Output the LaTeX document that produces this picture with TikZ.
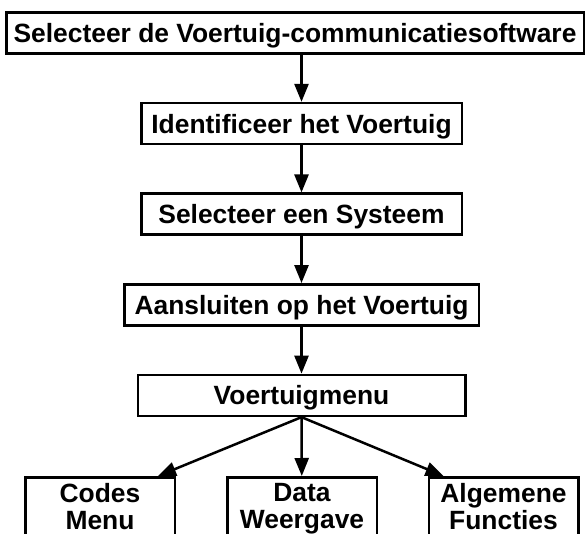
\documentclass[tikz,border=0pt]{standalone}
\usepackage{fontspec}
\setmainfont{Liberation Sans}
\usepackage{tikz}
\usetikzlibrary{shapes.geometric, arrows.meta}
\tikzstyle{process} = [rectangle, draw=black, line width=2.5pt, minimum height=41pt, text height=19pt, text depth=0pt, inner sep=0pt, text centered, font=\bfseries\fontsize{26.4}{27}\selectfont]
\tikzstyle{choice} = [rectangle, draw=black, line width=2.5pt, anchor=north, minimum width=149.5pt, inner xsep=0pt, inner ysep=6.5pt, align=center, font=\bfseries\fontsize{26.4}{26.5}\selectfont]
\tikzstyle{arrow} = [line width=2.5pt, -{Triangle[length=18pt, width=14pt]}]

\begin{document}
\begin{tikzpicture}[x=1pt, y=-1pt, node distance=90.6pt]

    \useasboundingbox (0,0) rectangle (588,534);
    \clip (0,0) rectangle (588,534);

    \node (start) [process, minimum width=577.5pt] at (295,33) {Selecteer de Voertuig-communicatiesoftware};
    \node (A) [process, minimum width=320.5pt, below of=start, xshift=6.5pt] {Identificeer het Voertuig};
    \node (B) [process, minimum width=320.5pt, below of=A] {Selecteer een Systeem};
    \node (C) [process, minimum width=354.5pt, below of=B] {Aansluiten op het Voertuig};
    \node (menu) [process, minimum width=327.5pt, below of=C] {Voertuigmenu};

    \node (codes) [choice] at (100,476) {Codes\\Menu\\ \mbox{}};
    \node (data) [choice] at (302,476) {Data\\Weergave\\ \mbox{}};
    \node (func) [choice] at (503.5,476) {Algemene\\Functies\\ \mbox{}};

    \draw [arrow] (start.south -| A.north) -- (A);
    \draw [arrow] (A) -- (B);
    \draw [arrow] (B) -- (C);
    \draw [arrow] (C) -- (menu);
    \draw [arrow] (menu.south) -- ([xshift=-18pt]codes.north east);
    \draw [arrow] (menu.south) -- (data);
    \draw [arrow] (menu.south) -- ([xshift=16pt]func.north west);

\end{tikzpicture}
\end{document}
